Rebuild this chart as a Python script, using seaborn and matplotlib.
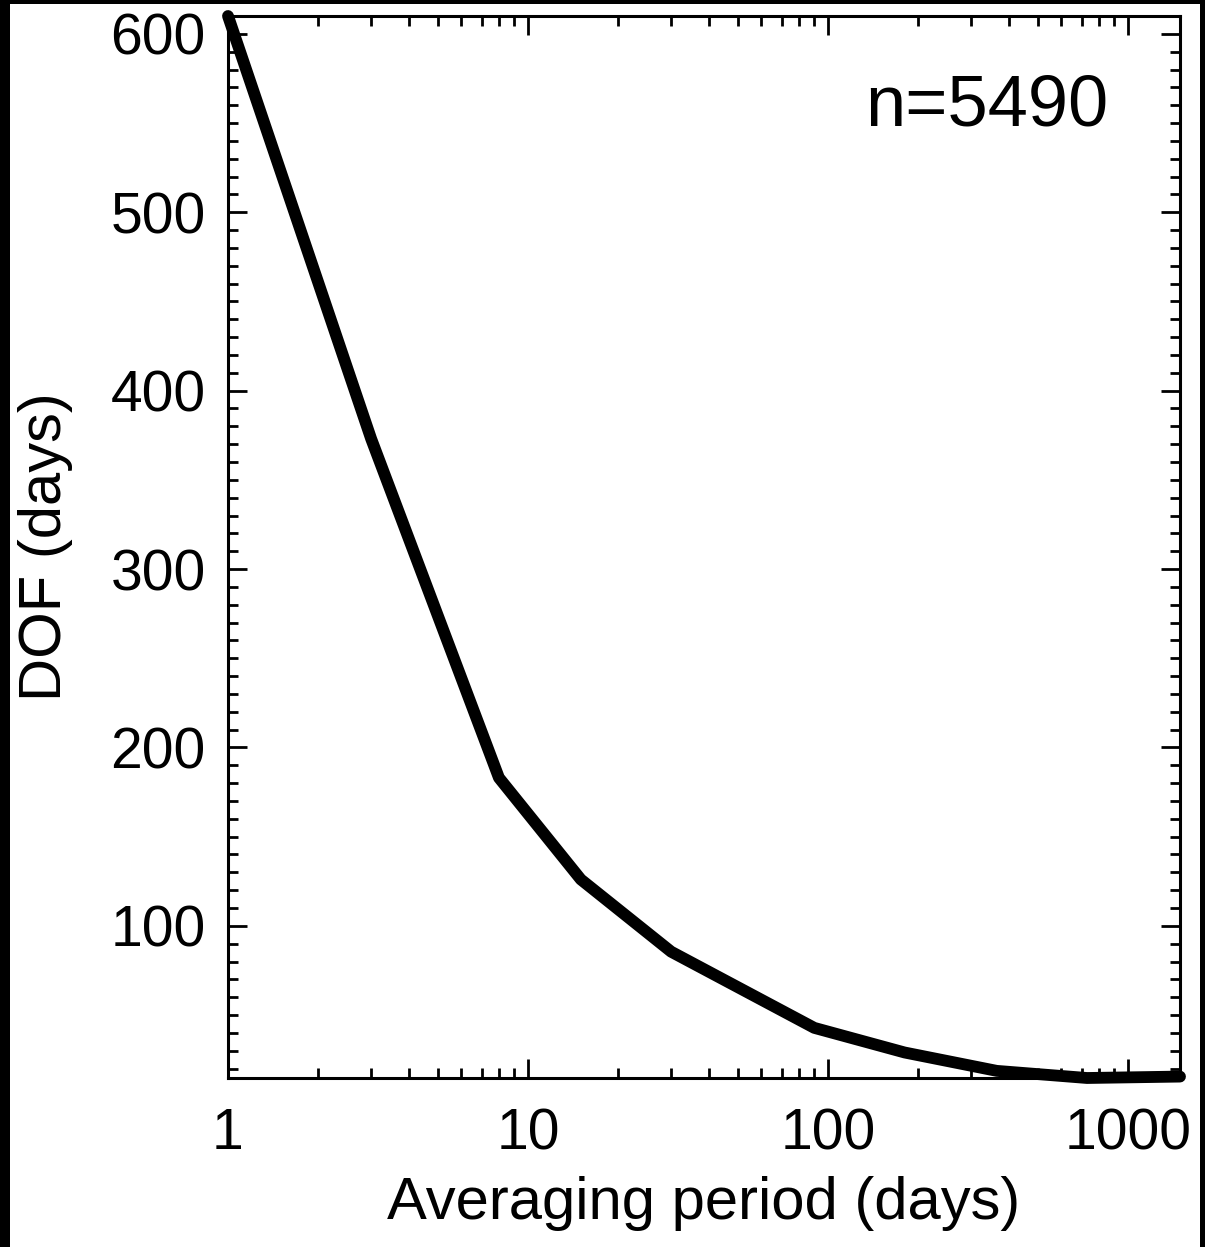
import matplotlib
matplotlib.use("Agg")
import matplotlib.pyplot as plt
import matplotlib.ticker as mticker
import numpy as np
import pandas as pd
import seaborn as sns

sns.set_style("ticks")
plt.rcParams["font.family"] = ["Liberation Sans", "DejaVu Sans"]
plt.rcParams["text.color"] = "black"
plt.rcParams["axes.labelcolor"] = "black"
plt.rcParams["xtick.color"] = "black"
plt.rcParams["ytick.color"] = "black"

# averaging period (days) and degrees of freedom
period = [1, 3, 8, 15, 30, 90, 180, 365, 730, 1490]
dof = [610, 373, 183, 126, 85.5, 42.8, 29, 18.7, 14.7, 15.5]
xticks = [1, 10, 100, 1000]
yticks = [100, 200, 300, 400, 500, 600]
n_label = "n=5490"

df = pd.DataFrame({"period": period, "dof": dof})

fig = plt.figure(figsize=(12.05, 12.47), dpi=100)
fig.patch.set_facecolor("black")
fig.add_artist(plt.Rectangle((10 / 1205, 0), 1190 / 1205, 1243 / 1247,
                             transform=fig.transFigure, facecolor="white",
                             edgecolor="none", zorder=-1))
ax = fig.add_axes([228 / 1205, 169 / 1247, 952 / 1205, 1062 / 1247])
ax.set_facecolor("white")

sns.lineplot(data=df, x="period", y="dof", color="black", linewidth=8.5,
             ax=ax, clip_on=False, zorder=3)

ax.set_xscale("log")
ax.set_xlim(min(period), max(period))
ax.set_ylim(min(dof), max(dof))

ax.xaxis.set_major_locator(mticker.FixedLocator(xticks))
ax.xaxis.set_major_formatter(mticker.FixedFormatter([str(t) for t in xticks]))
ax.xaxis.set_minor_locator(mticker.LogLocator(base=10, subs=np.arange(2, 10)))
ax.xaxis.set_minor_formatter(mticker.NullFormatter())
ax.yaxis.set_major_locator(mticker.FixedLocator(yticks))
ax.yaxis.set_minor_locator(mticker.MultipleLocator(10))

for s in ax.spines.values():
    s.set_linewidth(2.2)
    s.set_color("black")

ax.tick_params(which="both", direction="in", top=True, right=True,
               color="black", width=2)
ax.tick_params(which="major", length=14, labelsize=41)
ax.tick_params(which="minor", length=7)
ax.tick_params(axis="x", which="major", pad=21)
ax.tick_params(axis="y", which="major", pad=16)

ax.set_xlabel("Averaging period (days)", fontsize=43, labelpad=11)
ax.set_ylabel("DOF (days)", fontsize=43, labelpad=27)

ax.text(0.797, 0.897, n_label, transform=ax.transAxes, fontsize=52,
        ha="center", va="baseline")

fig.savefig("out.png", dpi=100, facecolor=fig.get_facecolor())
